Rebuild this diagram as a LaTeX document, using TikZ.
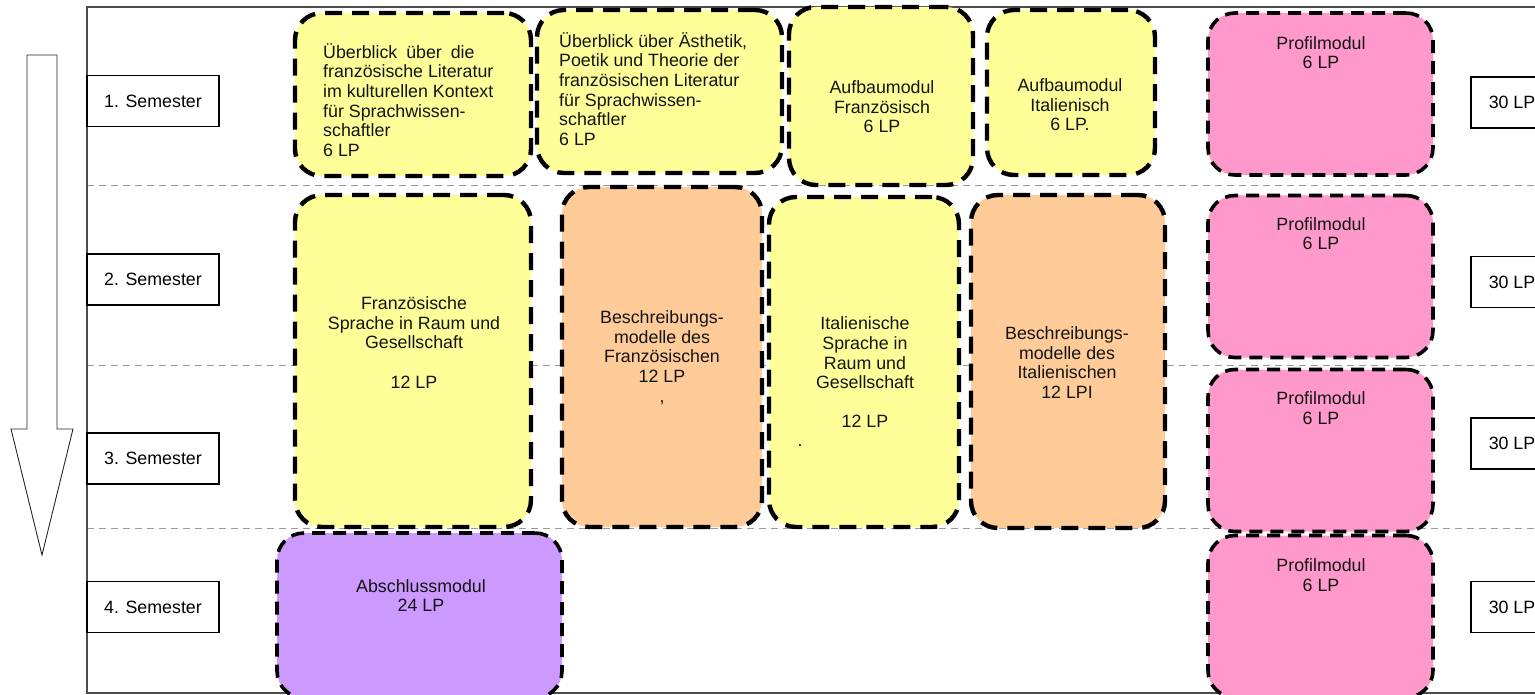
\documentclass[tikz,border=0pt]{standalone}
\usepackage{fontspec}
\setmainfont{Liberation Sans}
\definecolor{gelb}{HTML}{FFFF99}
\definecolor{apricot}{HTML}{FFCC99}
\definecolor{rosa}{HTML}{FF99CC}
\definecolor{lila}{HTML}{CC99FF}
\begin{document}
\begin{tikzpicture}[x=1pt, y=-1pt,
		font=\fontsize{17.8}{19.6}\selectfont,
		modul/.style={draw, rounded corners=27pt, line width=4.4pt, dash pattern=on 17pt off 10pt, inner sep=0pt},
		modulthin/.style={modul, line width=3.6pt, dash pattern=on 13pt off 8pt},
		sem/.style={draw, line width=1.4pt, fill=white, minimum width=132pt, minimum height=51pt, inner sep=0pt},
		txt/.style={inner sep=0pt, align=center, text=black!92},
		row/.style={black!40, line width=1pt, dash pattern=on 7pt off 5pt}]
		\useasboundingbox (0,0) rectangle (1535,695);
		
		\draw[row] (87,186) -- (1535,186);
		\draw[row] (87,365) -- (1535,365);
		\draw[row] (87,528) -- (1535,528);
		\draw[line width=1.8pt, black!70] (1560,7) -- (87,7) -- (87,693) -- (1560,693);
		
		\draw[line width=0.9pt, black!85] (27,55) -- (57,55) -- (57,429) -- (73,429) -- (42,555) -- (11,429) -- (27,429) -- cycle;
		
		\foreach \n/\y in {1/101, 2/279.5, 3/458.5, 4/607}
			\node[sem] (sem\n) at (153,\y) {\n. Semester};
		\foreach \n/\y in {1/102.5, 2/282, 3/443.5, 4/607}
			\node[sem, minimum width=82pt] (lp\n) at (1512,\y) {30 LP};
		
		\node[modul, fill=gelb, minimum width=236pt, minimum height=163pt] (ueblit) at (413,94.5) {};
		\node[txt, align=left, anchor=west] (ueblittxt) at (323,100)
			{Überblick\enspace über\enspace die\\französische Literatur\\im kulturellen Kontext\\für Sprachwissen-\\schaftler\\6 LP};
		\node[modul, fill=gelb, minimum width=245pt, minimum height=163pt] (uebaest) at (659.5,91.5) {};
		\node[txt, align=left, anchor=west] (uebaesttxt) at (559,89)
			{Überblick über Ästhetik,\\Poetik und Theorie der\\französischen Literatur\\für Sprachwissen-\\schaftler\\6 LP};
		\node[modul, fill=gelb, minimum width=184pt, minimum height=178pt] (aufbfr) at (881,96) {};
		\node[txt] (aufbfrtxt) at (882,107) {Aufbaumodul\\Französisch\\6 LP};
		\node[modul, fill=gelb, minimum width=168pt, minimum height=165pt] (aufbit) at (1071,92.5) {};
		\node[txt] (aufbittxt) at (1070,105) {Aufbaumodul\\Italienisch\\6 LP.};
		
		\node[modul, fill=gelb, minimum width=236pt, minimum height=332pt] (sprfr) at (413,361) {};
		\node[txt] (sprfrtxt) at (414,342.5) {Französische\\Sprache in Raum und\\Gesellschaft\\[19.6pt]12 LP};
		\node[modul, fill=apricot, minimum width=200pt, minimum height=340pt] (beschfr) at (662,357) {};
		\node[txt] (beschfrtxt) at (662,357.5) {Beschreibungs-\\modelle des\\Französischen\\12 LP\\,};
		\node[modul, fill=gelb, minimum width=190pt, minimum height=330pt] (sprit) at (864,362) {};
		\node[txt] (sprittxt) at (865,372.5) {Italienische\\Sprache in\\Raum und\\Gesellschaft\\[19.6pt]12 LP};
		\node[txt] (spritpkt) at (800,446) {.};
		\node[modul, fill=apricot, minimum width=194pt, minimum height=333pt] (beschit) at (1068,361.5) {};
		\node[txt] (beschittxt) at (1067,362.5) {Beschreibungs-\\modelle des\\Italienischen\\12 LPI};
		
		\node[modulthin, fill=lila, minimum width=285pt, minimum height=165pt] (abschl) at (419.5,615.5) {};
		\node[txt] (abschltxt) at (421,595.5) {Abschlussmodul\\24 LP};
		
		\foreach \n/\y/\t in {1/94/52.5, 2/276.5/233.5, 3/450.5/408, 4/616.5/575} {
			\node[modulthin, fill=rosa, minimum width=225pt, minimum height=162pt] (profil\n) at (1320.5,\y) {};
			\node[txt] (profiltxt\n) at (1321,\t) {Profilmodul\\6 LP};
		}
	\end{tikzpicture}
\end{document}
